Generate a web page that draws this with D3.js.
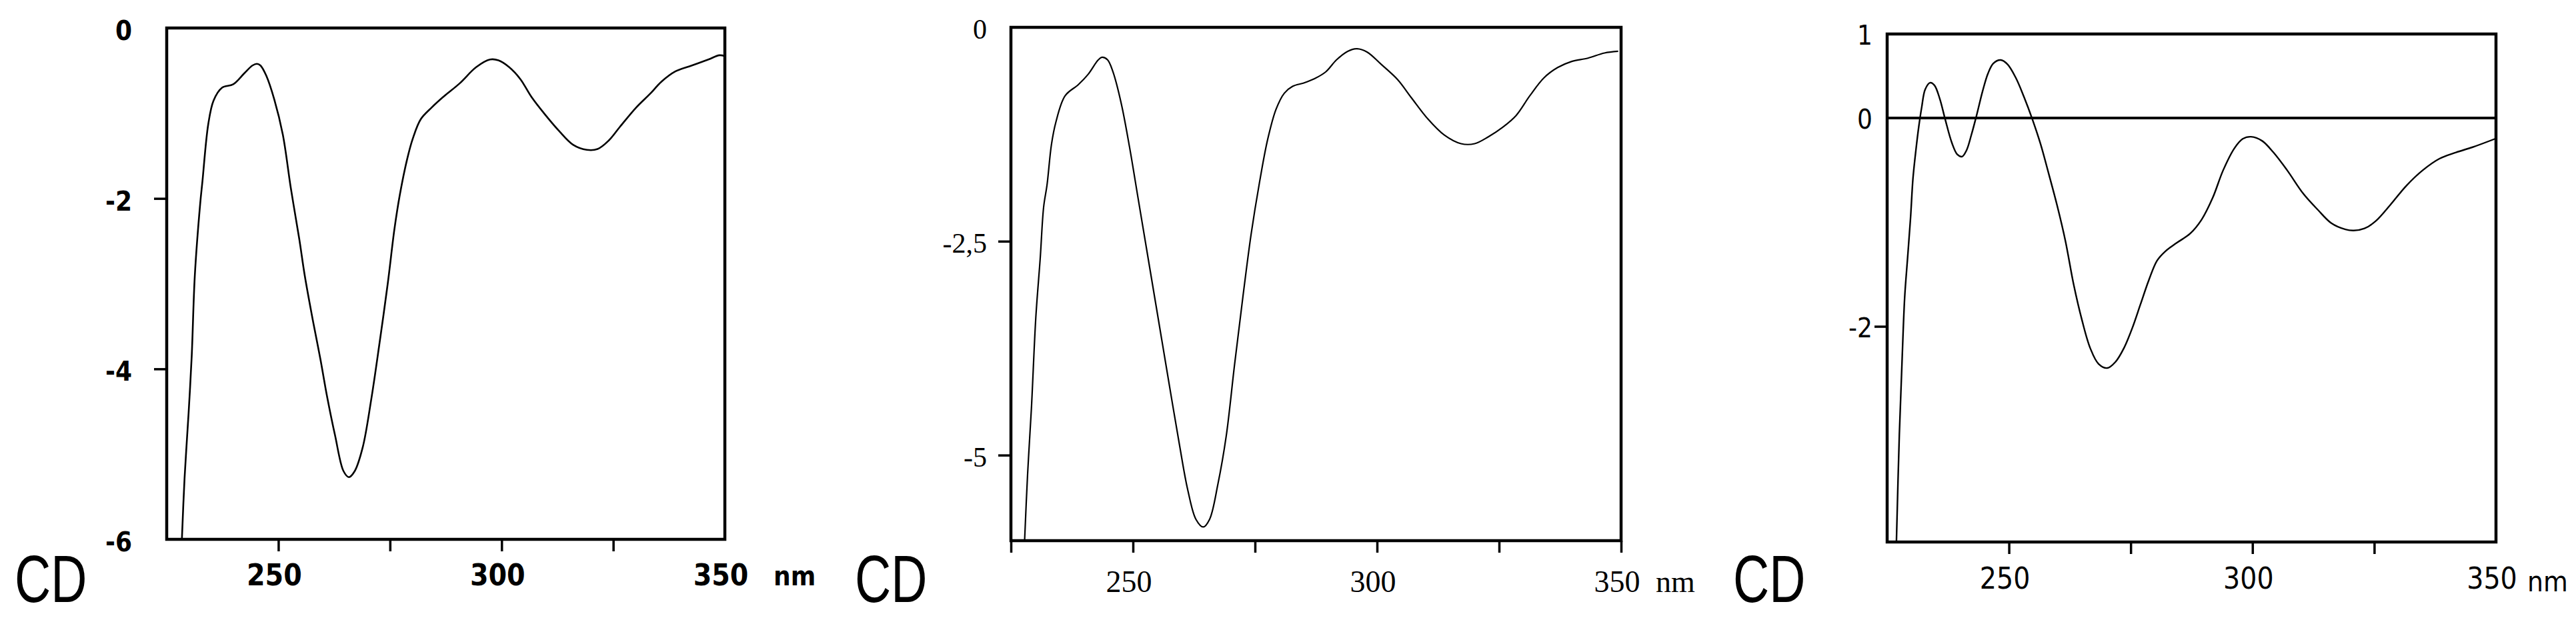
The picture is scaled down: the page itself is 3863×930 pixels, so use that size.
<!DOCTYPE html>
<html>
<head>
<meta charset="utf-8">
<script src="https://cdn.jsdelivr.net/npm/d3@7"></script>
<style>
    body { margin: 0; background: #fff; }
    svg { display: block; }
</style>
</head>
<body>
<svg id="chart" width="3863" height="930"></svg>
<script>
// CD spectra, wavelength (nm) and CD value
var wl1 = [228.4, 229.0, 229.9, 230.6, 231.3, 232.5, 233.0, 234.3, 235.5, 237.4, 239.9, 242.4, 244.2, 245.2, 246.0, 247.3,
    249.1, 251.0, 252.8, 254.7, 255.9, 257.8, 259.4, 260.9, 262.7, 264.6, 265.8, 267.1, 268.9, 270.8, 272.6, 274.5,
    276.0, 277.2, 278.8, 280.1, 281.9, 284.4, 286.9, 290.6, 294.3, 297.4, 299.3, 301.7, 304.2, 306.7, 309.8, 312.9,
    316.0, 319.1, 321.5, 324.0, 326.5, 330.2, 333.3, 335.8, 338.9, 342.6, 346.3, 348.8, 350.0];
var cd1 = [-6.0, -5.28, -4.52, -3.85, -2.9, -2.06, -1.8, -1.13, -0.85, -0.70, -0.66, -0.53, -0.44, -0.42, -0.44, -0.56,
    -0.84, -1.25, -1.88, -2.48, -2.90, -3.45, -3.88, -4.32, -4.78, -5.20, -5.27, -5.20, -4.92, -4.36, -3.72, -3.00,
    -2.36, -1.96, -1.55, -1.30, -1.07, -0.93, -0.81, -0.65, -0.46, -0.37, -0.38, -0.46, -0.60, -0.81, -1.02, -1.21,
    -1.37, -1.43, -1.42, -1.32, -1.16, -0.93, -0.77, -0.63, -0.51, -0.44, -0.37, -0.32, -0.33];

var wl2 = [227.8, 228.4, 229.2, 230.1, 231.0, 231.7, 232.4, 233.3, 234.2, 236.1, 238.8, 240.8, 242.9, 243.7, 244.8,
    245.9, 247.6, 249.3, 251.0, 252.7, 254.4, 256.1, 257.8, 259.5, 261.2, 262.9, 264.4, 265.7, 267.4, 269.1, 270.8,
    272.5, 274.2, 275.9, 277.6, 279.3, 281.0, 282.7, 285.0, 287.2, 289.5, 291.7, 294.0, 295.9, 298.0, 300.8, 304.2,
    307.0, 310.4, 313.8, 317.2, 320.0, 322.8, 325.7, 328.5, 331.3, 334.2, 337.0, 339.8, 343.2, 346.6, 349.4];
var cd2 = [-6.0, -5.24, -4.45, -3.39, -2.70, -2.10, -1.84, -1.37, -1.11, -0.80, -0.67, -0.55, -0.38, -0.35, -0.38,
    -0.52, -0.89, -1.40, -1.98, -2.56, -3.14, -3.72, -4.30, -4.87, -5.40, -5.75, -5.84, -5.75, -5.34, -4.78, -3.95,
    -3.16, -2.42, -1.82, -1.31, -0.96, -0.77, -0.69, -0.65, -0.60, -0.52, -0.38, -0.28, -0.25, -0.29, -0.43, -0.61,
    -0.82, -1.07, -1.26, -1.36, -1.36, -1.28, -1.17, -1.03, -0.80, -0.59, -0.47, -0.40, -0.36, -0.30, -0.28];

var wl3 = [226.9, 227.5, 228.1, 228.6, 229.2, 229.8, 230.3, 230.9, 231.5, 232.1, 232.8, 233.8, 234.7, 235.8, 236.9,
    238.3, 239.4, 240.4, 241.3, 242.3, 243.4, 244.6, 245.7, 246.8, 248.3, 249.7, 251.4, 253.1, 254.8, 256.5, 258.2,
    259.9, 261.6, 263.3, 265.0, 266.7, 268.4, 270.2, 271.9, 273.6, 275.3, 277.0, 278.7, 280.4, 282.1, 284.4, 287.2,
    289.5, 291.8, 294.0, 296.3, 298.0, 299.7, 302.0, 304.3, 307.1, 310.5, 313.4, 316.2, 319.1, 320.8, 323.0, 325.3,
    328.2, 331.6, 335.0, 338.4, 341.8, 345.2, 349.8];
var cd3 = [-4.07, -3.04, -2.28, -1.72, -1.34, -0.96, -0.58, -0.31, -0.08, 0.13, 0.34, 0.42, 0.39, 0.23, -0.01,
    -0.24, -0.35, -0.37, -0.31, -0.16, 0.04, 0.32, 0.53, 0.65, 0.69, 0.64, 0.48, 0.25, -0.01, -0.25, -0.54,
    -0.84, -1.18, -1.60, -1.94, -2.21, -2.36, -2.40, -2.34, -2.21, -2.02, -1.79, -1.56, -1.37, -1.28, -1.20, -1.11,
    -0.98, -0.77, -0.50, -0.29, -0.20, -0.18, -0.22, -0.33, -0.50, -0.73, -0.88, -1.01, -1.07, -1.08, -1.06, -0.99,
    -0.84, -0.65, -0.50, -0.39, -0.33, -0.28, -0.20];

// axis ticks and labels
var xLabels = [250, 300, 350];
var xMarks1 = [250, 275, 300, 325];
var xMarks2 = [225, 250, 275, 300, 325, 350];
var xMarks3 = [250, 275, 300, 325];

var yTicks1 = [0, -2, -4, -6], yLabels1 = ['0', '-2', '-4', '-6'], yMarks1 = [-2, -4];
var yTicks2 = [0, -2.5, -5], yLabels2 = ['0', '-2,5', '-5'], yMarks2 = [-2.5, -5];
var yTicks3 = [1, 0, -2], yLabels3 = ['1', '0', '-2'], yMarks3 = [-2];

var panels = [
    { wl: wl1, cd: cd1, left: 250, right: 1087, top: 42, bottom: 809,
      yDomain: [-6, 0], yRange: [809, 42],
      yTicks: yTicks1, yLabels: yLabels1, yMarks: yMarks1, xMarks: xMarks1,
      font: '"Liberation Sans Narrow", "DejaVu Sans Condensed", sans-serif', weight: 'bold',
      xSize: 44, ySize: 40, xBase: 878, yGap: 52, yDy: 4, nmDx: 73, nmSize: 40, nmBase: 878,
      cdX: 22, lineW: 2.6 },
    { wl: wl2, cd: cd2, left: 1516, right: 2431, top: 41, bottom: 811,
      yDomain: [-6, 0], yRange: [811, 41],
      yTicks: yTicks2, yLabels: yLabels2, yMarks: yMarks2, xMarks: xMarks2,
      font: '"Liberation Serif", "DejaVu Serif", serif', weight: 'normal',
      xSize: 46, ySize: 42, xBase: 888, yGap: 36, yDy: 3, nmDx: 52, nmSize: 46, nmBase: 888,
      cdX: 1282, lineW: 2.2 },
    { wl: wl3, cd: cd3, left: 2830, right: 3743, top: 51, bottom: 813,
      yDomain: [-4.07, 0, 1], yRange: [813, 177, 51],
      yTicks: yTicks3, yLabels: yLabels3, yMarks: yMarks3, xMarks: xMarks3, zeroLine: true,
      font: '"Liberation Sans Narrow", "DejaVu Sans Condensed", sans-serif', weight: 'normal',
      xSize: 44, ySize: 40, xBase: 883, yGap: 22, yDy: 2, nmDx: 47, nmSize: 42, nmBase: 887,
      cdX: 2599, lineW: 2.4 }
];

var svg = d3.select('#chart');

svg.append('rect')
    .attr('width', 3863)
    .attr('height', 930)
    .attr('fill', '#fff');

function drawPanel(p, i) {
    var g = svg.append('g'),
        x = d3.scaleLinear().domain([225, 350]).range([p.left, p.right]),
        y = d3.scaleLinear().domain(p.yDomain).range(p.yRange),
        points = d3.zip(p.wl, p.cd),
        clipId = 'clip' + i;

    svg.append('clipPath')
        .attr('id', clipId)
        .append('rect')
        .attr('x', p.left)
        .attr('y', p.top)
        .attr('width', p.right - p.left)
        .attr('height', p.bottom - p.top);

    // tick marks on the bottom and left
    var xAxis = g.append('g')
        .attr('transform', 'translate(0,' + p.bottom + ')')
        .call(d3.axisBottom(x).tickValues(p.xMarks).tickSize(18).tickFormat(''));

    var yAxis = g.append('g')
        .attr('transform', 'translate(' + p.left + ',0)')
        .call(d3.axisLeft(y).tickValues(p.yMarks).tickSize(19).tickFormat(''));

    [xAxis, yAxis].forEach(function (a) {
        a.select('.domain').remove();
        a.selectAll('.tick line')
            .attr('stroke', '#000')
            .attr('stroke-width', 3.5);
    });

    if (p.zeroLine) {
        g.append('line')
            .attr('x1', x(225))
            .attr('x2', x(350))
            .attr('y1', y(0))
            .attr('y2', y(0))
            .attr('stroke', '#000')
            .attr('stroke-width', 4);
    }

    var line = d3.line()
        .x(function (d) { return x(d[0]); })
        .y(function (d) { return y(d[1]); })
        .curve(d3.curveCatmullRom.alpha(0.5));

    g.append('path')
        .datum(points)
        .attr('clip-path', 'url(#' + clipId + ')')
        .attr('d', line)
        .attr('fill', 'none')
        .attr('stroke', '#000')
        .attr('stroke-width', p.lineW)
        .attr('stroke-linejoin', 'round');

    // frame
    g.append('rect')
        .attr('x', p.left)
        .attr('y', p.top)
        .attr('width', p.right - p.left)
        .attr('height', p.bottom - p.top)
        .attr('fill', 'none')
        .attr('stroke', '#000')
        .attr('stroke-width', 4.5);

    // tick labels
    g.selectAll('.xlab')
        .data(xLabels)
        .enter().append('text')
        .attr('x', function (d) { return x(d) - 6; })
        .attr('y', p.xBase)
        .attr('text-anchor', 'middle')
        .attr('font-family', p.font)
        .attr('font-weight', p.weight)
        .attr('font-size', p.xSize)
        .text(function (d) { return d; });

    g.append('text')
        .attr('x', x(350) + p.nmDx)
        .attr('y', p.nmBase)
        .attr('font-family', p.font)
        .attr('font-weight', p.weight)
        .attr('font-size', p.nmSize)
        .text('nm');

    g.selectAll('.ylab')
        .data(p.yTicks)
        .enter().append('text')
        .attr('x', p.left - p.yGap)
        .attr('y', function (d) { return y(d) + p.yDy; })
        .attr('dominant-baseline', 'central')
        .attr('text-anchor', 'end')
        .attr('font-family', p.font)
        .attr('font-weight', p.weight)
        .attr('font-size', p.ySize)
        .text(function (d, j) { return p.yLabels[j]; });

    // axis name, squeezed sideways like the scanned figure
    g.append('text')
        .attr('transform', 'translate(' + p.cdX + ',903) scale(0.75,1)')
        .attr('font-family', '"Liberation Sans", Arial, sans-serif')
        .attr('font-size', 100)
        .text('CD');
}

panels.forEach(drawPanel);
</script>
</body>
</html>
